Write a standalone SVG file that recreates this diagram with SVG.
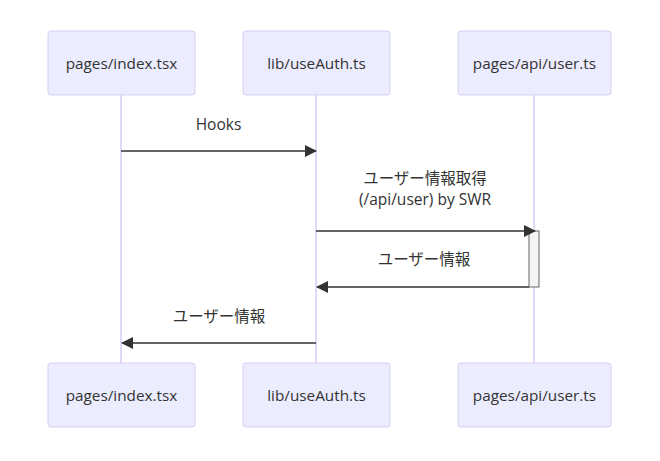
<svg xmlns="http://www.w3.org/2000/svg" width="660" height="461" viewBox="0 0 660 461">
<style>
.actor{fill:#ECECFF;stroke:#D7CDF5;stroke-width:1}
.atext{font-family:"Open Sans","Liberation Sans","Noto Sans CJK JP",sans-serif;font-size:15.3px;fill:#333;text-anchor:middle;dominant-baseline:central}
.life{stroke:#D7CDF5;stroke-width:1.5}
.msg{stroke:#333;stroke-width:1.5;fill:none}
.mtext{font-family:"Open Sans","Liberation Sans","Noto Sans CJK JP",sans-serif;font-size:15.5px;fill:#333;text-anchor:middle;dominant-baseline:central}
.act{fill:#F4F4F4;stroke:#666;stroke-width:1}
</style>
<defs>
<marker id="ah" viewBox="0 0 12 12" refX="11" refY="6" markerWidth="12" markerHeight="12" markerUnits="userSpaceOnUse" orient="auto">
<path d="M0,0 L12,6 L0,12 z" fill="#333"/>
</marker>
</defs>
<g id="lifelines">
<line class="life" x1="121" y1="95" x2="121" y2="363"/>
<line class="life" x1="316" y1="95" x2="316" y2="363"/>
<line class="life" x1="534" y1="95" x2="534" y2="363"/>
</g>
<g id="actor-index-top"><rect class="actor" x="48" y="31" width="147" height="64" rx="3"/><text class="atext" x="121.5" y="63">pages/index.tsx</text></g>
<g id="actor-useauth-top"><rect class="actor" x="243" y="31" width="147" height="64" rx="3"/><text class="atext" x="316.5" y="63">lib/useAuth.ts</text></g>
<g id="actor-user-top"><rect class="actor" x="458" y="31" width="153" height="64" rx="3"/><text class="atext" x="534.5" y="63">pages/api/user.ts</text></g>
<g id="actor-index-bottom"><rect class="actor" x="48" y="363" width="147" height="64" rx="3"/><text class="atext" x="121.5" y="395">pages/index.tsx</text></g>
<g id="actor-useauth-bottom"><rect class="actor" x="243" y="363" width="147" height="64" rx="3"/><text class="atext" x="316.5" y="395">lib/useAuth.ts</text></g>
<g id="actor-user-bottom"><rect class="actor" x="458" y="363" width="153" height="64" rx="3"/><text class="atext" x="534.5" y="395">pages/api/user.ts</text></g>
<g id="activation"><rect class="act" x="529" y="231" width="10" height="56"/></g>
<g id="connectors">
<line class="msg" x1="121" y1="151" x2="316" y2="151" marker-end="url(#ah)"/>
<text class="mtext" x="218.5" y="124">Hooks</text>
<line class="msg" x1="316" y1="231" x2="535" y2="231" marker-end="url(#ah)"/>
<text class="mtext" x="425" y="178">ユーザー情報取得</text>
<text class="mtext" x="425" y="199">(/api/user) by SWR</text>
<line class="msg" x1="529" y1="287" x2="317" y2="287" marker-end="url(#ah)"/>
<text class="mtext" x="424" y="259">ユーザー情報</text>
<line class="msg" x1="316" y1="343" x2="122" y2="343" marker-end="url(#ah)"/>
<text class="mtext" x="219" y="316">ユーザー情報</text>
</g>
</svg>
